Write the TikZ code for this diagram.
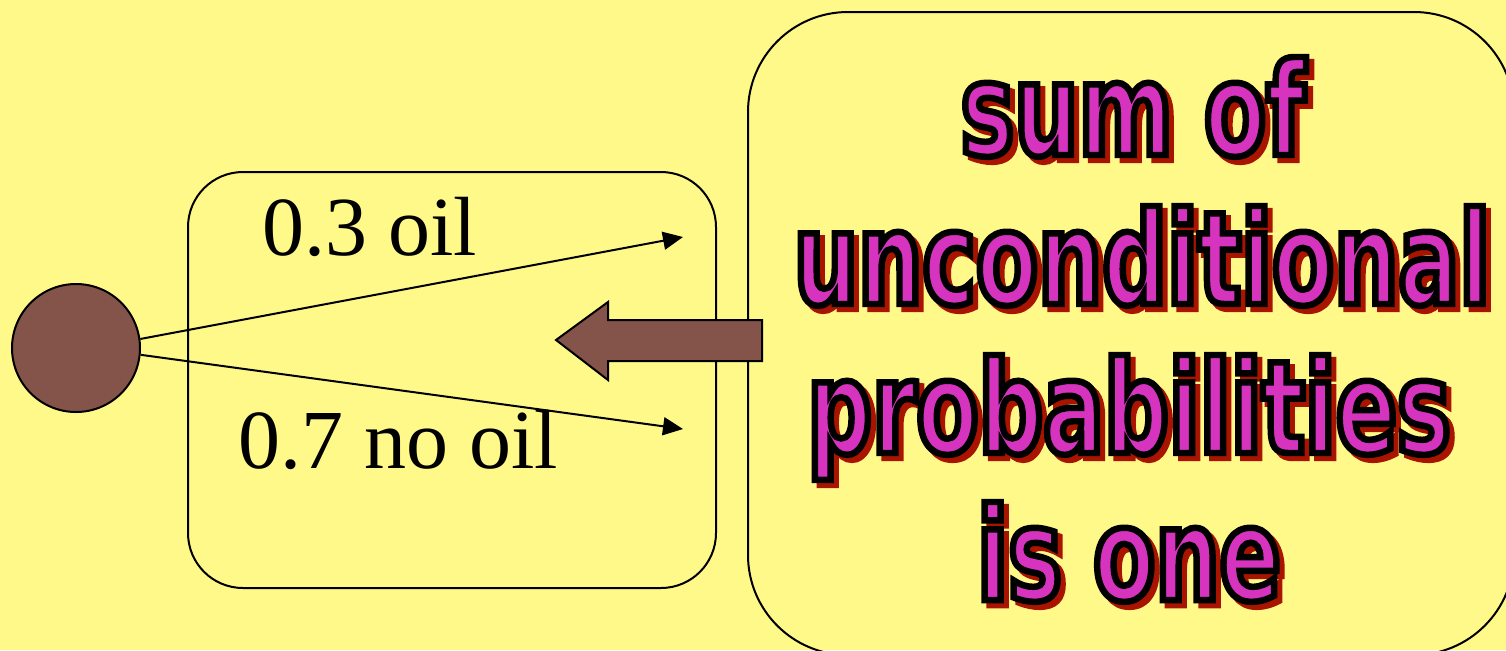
\documentclass[tikz,border=0pt]{standalone}
\usepackage{fontspec}
\usetikzlibrary{arrows.meta}
\newfontfamily\timesfont{Liberation Serif}
\newfontfamily\impactfont{DejaVu Sans}[FakeStretch=0.70, FakeBold=5]
\definecolor{bgyellow}{HTML}{FFF98A}
\definecolor{brownfill}{HTML}{84534A}
\definecolor{magtext}{HTML}{D634BE}
\definecolor{shadowred}{HTML}{A81400}
\newcommand{\blackstroke}{\special{pdf:literal direct 0 0 0 RG}}
\tikzset{
  roundbox/.style={draw=black, line width=1pt, inner sep=0pt},
  conn/.style={draw=black, line width=1pt, -{Triangle[length=10pt,width=9pt]}},
  lbl/.style={font=\timesfont\fontsize{42}{50}\selectfont, inner sep=0pt, text=black},
  bigtxt/.style={font=\impactfont\bfseries\fontsize{64.5}{70}\selectfont, inner sep=0pt, anchor=base},
}
\newcommand{\fancyline}[3]{%
  \node[bigtxt, text=shadowred, xshift=2.5pt, yshift=-2.5pt] at (#2) {#3};
  \node[bigtxt, text=magtext] (#1) at (#2) {\blackstroke#3};
}
\begin{document}
\begin{tikzpicture}[x=0.5pt, y=-0.5pt]
  \fill[bgyellow] (0,0) rectangle (1506,650);
  \useasboundingbox (0,0) rectangle (1506,650);
  \clip (0,0) rectangle (1506,650);
  % boxes
  \node[roundbox, rounded corners=27.5pt, minimum width=264pt, minimum height=208pt] (small) at (452,380) {};
  \node[roundbox, rounded corners=50pt, minimum width=383pt, minimum height=321.5pt] (big) at (1131,333.5) {};
  % chance node
  \node[circle, draw=black, fill=brownfill, line width=1pt, minimum size=64pt, inner sep=0pt] (chance) at (76,348) {};
  \coordinate (tipA) at (683,237);
  \coordinate (tipB) at (683,429);
  \draw[conn] (chance.8) -- (tipA);
  \draw[conn] (chance.-6) -- (tipB);
  % labels
  \node[lbl, anchor=base west] (oil) at (262,255) {0.3 oil};
  \node[lbl, anchor=base west] (nooil) at (238,468) {0.7 no oil};
  % big arrow
  \draw[fill=brownfill, line width=1pt, line join=miter]
    (762,320) -- (608,320) -- (608,302) -- (556,340) -- (608,380) -- (608,361) -- (762,361) -- cycle;
  % big text
  \fancyline{t1}{1133,155}{sum of}
  \fancyline{t2}{1142,304}{unconditional}
  \fancyline{t3}{1129,453}{probabilities}
  \fancyline{t4}{1129,600}{is one}
\end{tikzpicture}
\end{document}
